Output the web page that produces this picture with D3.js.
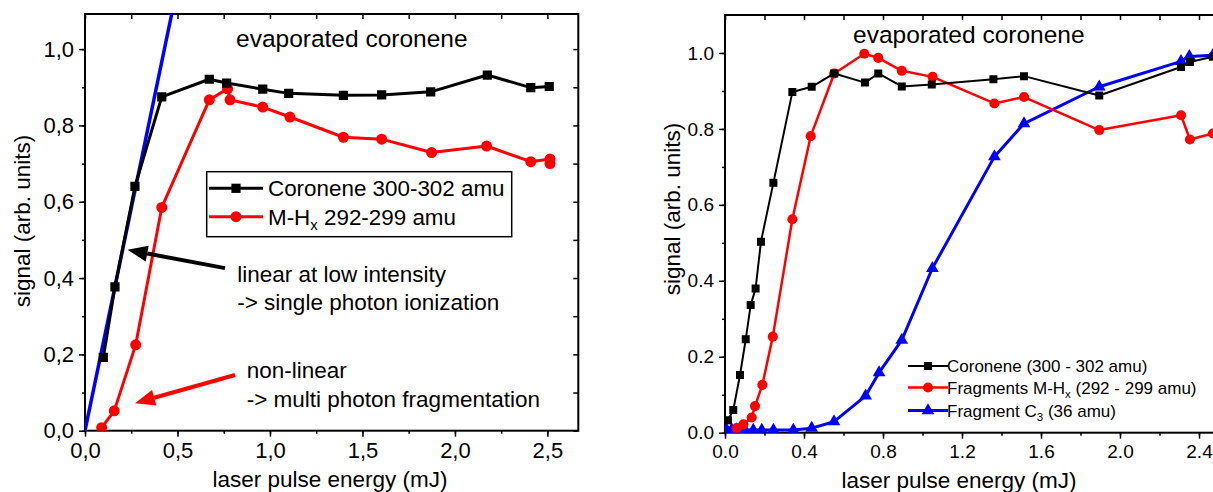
<!DOCTYPE html>
<html>
<head>
<meta charset="utf-8">
<script src="https://cdn.jsdelivr.net/npm/d3@7"></script>
<style>
  html, body { margin: 0; padding: 0; background: #fff; }
  svg { display: block; font-family: "Liberation Sans", Arial, sans-serif; }
</style>
</head>
<body>
<svg id="chart" width="1213" height="492"></svg>
<script>
// ---- Left panel: evaporated coronene, parent and M-Hx signal ----
const leftCorEnergy = [0.099, 0.162, 0.27, 0.415, 0.672, 0.766, 0.961, 1.101, 1.397, 1.604, 1.869, 2.175, 2.41, 2.51];
const leftCoronene  = [0.192, 0.377, 0.64, 0.875, 0.921, 0.911, 0.895, 0.884, 0.879, 0.880, 0.888, 0.932, 0.899, 0.902];
const leftMHxEnergy = [0.09, 0.158, 0.274, 0.415, 0.672, 0.771, 0.784, 0.961, 1.108, 1.397, 1.604, 1.874, 2.171, 2.41, 2.514, 2.514];
const leftMHx       = [0.008, 0.052, 0.225, 0.585, 0.867, 0.896, 0.867, 0.848, 0.822, 0.769, 0.764, 0.729, 0.746, 0.705, 0.712, 0.700];
// linear fit at low intensity
const fitEnergy = [0, 0.47];
const fitSignal = [0, 1.095];
const leftXTicks = [0, 0.5, 1.0, 1.5, 2.0, 2.5];
const leftYTicks = [0, 0.2, 0.4, 0.6, 0.8, 1.0];

// ---- Right panel: coronene, fragments M-Hx and C3 ----
const rightCorEnergy = [0.015, 0.042, 0.076, 0.105, 0.13, 0.155, 0.182, 0.245, 0.341, 0.439, 0.553, 0.709, 0.776, 0.895, 1.047, 1.359, 1.514, 1.895, 2.309, 2.354, 2.47];
const rightCoronene  = [0.033, 0.060, 0.152, 0.246, 0.336, 0.38, 0.503, 0.658, 0.897, 0.911, 0.946, 0.922, 0.946, 0.912, 0.917, 0.931, 0.939, 0.888, 0.963, 0.976, 0.99];
const rightMHxEnergy = [0.059, 0.093, 0.135, 0.152, 0.189, 0.242, 0.341, 0.434, 0.553, 0.705, 0.776, 0.895, 1.051, 1.364, 1.514, 1.895, 2.309, 2.354, 2.47];
const rightMHx       = [0.012, 0.022, 0.040, 0.070, 0.126, 0.253, 0.562, 0.781, 0.946, 0.998, 0.987, 0.953, 0.937, 0.867, 0.884, 0.797, 0.836, 0.772, 0.788];
const rightC3Energy  = [0.008, 0.034, 0.059, 0.101, 0.143, 0.186, 0.245, 0.346, 0.439, 0.552, 0.712, 0.78, 0.895, 1.05, 1.364, 1.514, 1.895, 2.309, 2.351, 2.47];
const rightC3        = [0.008, 0.008, 0.008, 0.007, 0.007, 0.007, 0.007, 0.007, 0.012, 0.029, 0.097, 0.158, 0.244, 0.433, 0.727, 0.814, 0.911, 0.978, 0.991, 0.994];
const rightXTicks = [0, 0.4, 0.8, 1.2, 1.6, 2.0, 2.4];
const rightYTicks = [0, 0.2, 0.4, 0.6, 0.8, 1.0];

const titleText = "evaporated coronene";
const xLabel = "laser pulse energy (mJ)";
const yLabel = "signal (arb. units)";

const svg = d3.select("#chart");
const RED = "#ff0000", BLUE = "#0000ff", BLACK = "#000000";

function zip(xs, ys) { return xs.map((x, i) => [x, ys[i]]); }

function frame(g, x, y, opts) {
  const [x0, x1] = x.range(), [y0, y1] = y.range();
  const clipId = opts.id + "-clip";
  g.append("clipPath").attr("id", clipId)
    .append("rect").attr("x", x0).attr("y", y1).attr("width", x1 - x0).attr("height", y0 - y1);

  // bottom axis (outward ticks)
  const bottom = g.append("g").attr("transform", `translate(0,${y0})`)
    .call(d3.axisBottom(x).tickValues(opts.xMinor).tickSize(3).tickFormat(""));
  bottom.select(".domain").remove();
  const bMaj = g.append("g").attr("transform", `translate(0,${y0})`)
    .call(d3.axisBottom(x).tickValues(opts.xTicks).tickSize(6).tickPadding(6).tickFormat(opts.fmt));
  bMaj.select(".domain").remove();
  bMaj.selectAll("text").attr("font-size", opts.tickFont).attr("fill", "#000")
    .style("font-family", "'Liberation Sans', Arial, sans-serif");

  // left axis (outward ticks)
  const left = g.append("g").attr("transform", `translate(${x0},0)`)
    .call(d3.axisLeft(y).tickValues(opts.yMinor).tickSize(3).tickFormat(""));
  left.select(".domain").remove();
  const lMaj = g.append("g").attr("transform", `translate(${x0},0)`)
    .call(d3.axisLeft(y).tickValues(opts.yTicks).tickSize(6).tickPadding(5).tickFormat(opts.fmt));
  lMaj.select(".domain").remove();
  lMaj.selectAll("text").attr("font-size", opts.tickFont).attr("fill", "#000")
    .style("font-family", "'Liberation Sans', Arial, sans-serif");

  // top and right mirror ticks (pointing inward)
  const top = g.append("g").attr("transform", `translate(0,${y1})`)
    .call(d3.axisBottom(x).tickValues(opts.xMinor).tickSize(5).tickFormat(""));
  top.select(".domain").remove();
  const right = g.append("g").attr("transform", `translate(${x1},0)`)
    .call(d3.axisLeft(y).tickValues(opts.yMinor).tickSize(5).tickFormat(""));
  right.select(".domain").remove();

  g.selectAll(".tick line").attr("stroke", "#000").attr("stroke-width", 1.5);

  g.append("rect").attr("x", x0).attr("y", y1).attr("width", x1 - x0).attr("height", y0 - y1)
    .attr("fill", "none").attr("stroke", "#000").attr("stroke-width", 2);
  return "url(#" + clipId + ")";
}

function series(g, clip, x, y, pts, color, width, symbol, size) {
  const line = d3.line().x(d => x(d[0])).y(d => y(d[1]));
  const s = g.append("g").attr("clip-path", clip);
  s.append("path").datum(pts).attr("d", line).attr("fill", "none")
    .attr("stroke", color).attr("stroke-width", width).attr("stroke-linejoin", "round");
  if (symbol) {
    s.selectAll("path.m").data(pts).join("path").attr("class", "m")
      .attr("transform", d => `translate(${x(d[0])},${y(d[1])})`)
      .attr("d", d3.symbol(symbol, size)).attr("fill", color);
  }
}

function arrow(g, x1, y1, x2, y2, color, w, headL, headW) {
  const ang = Math.atan2(y2 - y1, x2 - x1);
  const bx = x2 - headL * Math.cos(ang), by = y2 - headL * Math.sin(ang);
  g.append("line").attr("x1", x1).attr("y1", y1).attr("x2", bx).attr("y2", by)
    .attr("stroke", color).attr("stroke-width", w);
  const px = -Math.sin(ang) * headW / 2, py = Math.cos(ang) * headW / 2;
  g.append("path").attr("d", `M${x2},${y2}L${bx + px},${by + py}L${bx - px},${by - py}Z`).attr("fill", color);
}

// ================= LEFT PANEL =================
{
  const x = d3.scaleLinear([0, 2.667], [85, 578.3]);
  const y = d3.scaleLinear([0, 1.092], [430.7, 14]);
  const g = svg.append("g");
  const comma = d => d3.format(".1f")(d).replace(".", ",");
  const clip = frame(g, x, y, {
    id: "left", xTicks: leftXTicks, yTicks: leftYTicks,
    xMinor: d3.range(0, 2.66, 0.25), yMinor: d3.range(0, 1.09, 0.1),
    fmt: comma, tickFont: 22
  });

  series(g, clip, x, y, zip(fitEnergy, fitSignal), BLUE, 3.5, null);
  series(g, clip, x, y, zip(leftMHxEnergy, leftMHx), RED, 3, d3.symbolCircle, 95);
  series(g, clip, x, y, zip(leftCorEnergy, leftCoronene), BLACK, 3, d3.symbolSquare, 85);

  g.append("text").attr("x", 236).attr("y", 47).attr("font-size", 24.5).text(titleText);

  // legend
  const lg = g.append("g");
  lg.append("rect").attr("x", 206.7).attr("y", 171.7).attr("width", 305).attr("height", 65)
    .attr("fill", "#fff").attr("stroke", "#000").attr("stroke-width", 1.5);
  const rows = [
    { color: BLACK, sym: d3.symbolSquare, size: 85, y: 188.3, label: ["Coronene 300-302 amu"] },
    { color: RED, sym: d3.symbolCircle, size: 95, y: 216.7, label: ["M-H", "x", " 292-299 amu"] }
  ];
  rows.forEach(r => {
    lg.append("line").attr("x1", 209).attr("x2", 263).attr("y1", r.y).attr("y2", r.y)
      .attr("stroke", r.color).attr("stroke-width", 3);
    lg.append("path").attr("transform", `translate(236,${r.y})`).attr("d", d3.symbol(r.sym, r.size)).attr("fill", r.color);
    const t = lg.append("text").attr("x", 268).attr("y", r.y + 8).attr("font-size", 22.4);
    t.append("tspan").text(r.label[0]);
    if (r.label.length > 1) {
      t.append("tspan").attr("font-size", 15).attr("dy", 5).text(r.label[1]);
      t.append("tspan").attr("dy", -5).text(r.label[2]);
    }
  });

  // annotations
  arrow(g, x(0.757), y(0.426), x(0.23), y(0.474), BLACK, 4, 20, 16);
  arrow(g, x(0.811), y(0.146), x(0.27), y(0.072), RED, 4, 20, 16);
  const ann = [
    { x: 0.823, y: 0.39, t: "linear at low intensity" },
    { x: 0.823, y: 0.316, t: "-> single photon ionization" },
    { x: 0.874, y: 0.137, t: "non-linear" },
    { x: 0.874, y: 0.063, t: "-> multi photon fragmentation" }
  ];
  g.selectAll("text.ann").data(ann).join("text").attr("class", "ann")
    .attr("x", d => x(d.x)).attr("y", d => y(d.y)).attr("font-size", 22.5).text(d => d.t);

  g.append("text").attr("x", 330).attr("y", 487).attr("text-anchor", "middle").attr("font-size", 22.5).text(xLabel);
  g.append("text").attr("transform", "translate(30,221) rotate(-90)").attr("text-anchor", "middle")
    .attr("font-size", 22.5).text(yLabel);
}

// ================= RIGHT PANEL =================
{
  const x = d3.scaleLinear([0, 2.5], [725, 1218.75]);
  const y = d3.scaleLinear([0, 1.1], [432.7, 15]);
  const g = svg.append("g");
  const clip = frame(g, x, y, {
    id: "right", xTicks: rightXTicks, yTicks: rightYTicks,
    xMinor: d3.range(0, 2.5, 0.2), yMinor: d3.range(0, 1.1, 0.1),
    fmt: d3.format(".1f"), tickFont: 19
  });

  series(g, clip, x, y, zip(rightC3Energy, rightC3), BLUE, 3, d3.symbolTriangle, 70);
  series(g, clip, x, y, zip(rightMHxEnergy, rightMHx), RED, 2.5, d3.symbolCircle, 80);
  series(g, clip, x, y, zip(rightCorEnergy, rightCoronene), BLACK, 2, d3.symbolSquare, 64);

  g.append("text").attr("x", 853).attr("y", 43).attr("font-size", 24.5).text(titleText);

  const rows = [
    { color: BLACK, sym: d3.symbolSquare, size: 64, w: 2, y: 366, label: ["Coronene (300 - 302 amu)"] },
    { color: RED, sym: d3.symbolCircle, size: 80, w: 2.5, y: 387.5, label: ["Fragments M-H", "x", " (292 - 299 amu)"] },
    { color: BLUE, sym: d3.symbolTriangle, size: 70, w: 3, y: 410.5, label: ["Fragment C", "3", " (36 amu)"] }
  ];
  rows.forEach(r => {
    g.append("line").attr("x1", 908).attr("x2", 948).attr("y1", r.y).attr("y2", r.y)
      .attr("stroke", r.color).attr("stroke-width", r.w);
    g.append("path").attr("transform", `translate(928,${r.y})`).attr("d", d3.symbol(r.sym, r.size)).attr("fill", r.color);
    const t = g.append("text").attr("x", 947).attr("y", r.y + 6).attr("font-size", 17);
    t.append("tspan").text(r.label[0]);
    if (r.label.length > 1) {
      t.append("tspan").attr("font-size", 11.5).attr("dy", 4).text(r.label[1]);
      t.append("tspan").attr("dy", -4).text(r.label[2]);
    }
  });

  g.append("text").attr("x", 959).attr("y", 488).attr("text-anchor", "middle").attr("font-size", 22.5).text(xLabel);
  g.append("text").attr("transform", "translate(680,209) rotate(-90)").attr("text-anchor", "middle")
    .attr("font-size", 22.5).text(yLabel);
}
</script>
</body>
</html>
